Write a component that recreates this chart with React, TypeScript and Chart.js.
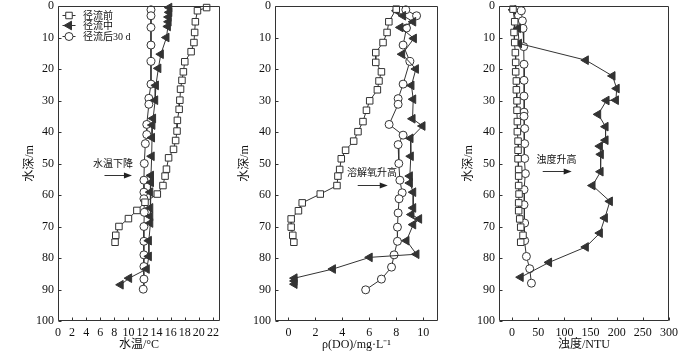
import React, { useEffect, useRef } from "react";
import { Chart, registerables } from "chart.js";

Chart.register(...registerables);

// ---------- data ----------
const seriesNames = ["径流前", "径流中", "径流后30 d"];
const depthTicks = [0, 10, 20, 30, 40, 50, 60, 70, 80, 90, 100];
const tempTicks = [0, 2, 4, 6, 8, 10, 12, 14, 16, 18, 20, 22];
const doTicks = [0, 2, 4, 6, 8, 10];
const turbTicks = [0, 50, 100, 150, 200, 250, 300];

// water temperature (°C)
const tempBeforeDepth = [0.5, 1.5, 5, 8.4, 11.6, 14.5, 17.7, 20.9, 23.6, 26.4, 29.9, 32.8, 36.3, 39.7, 42.7, 45.5, 48.2, 51.8, 54, 57, 59.7, 62.3, 64.9, 67.5, 70, 72.8, 75];
const tempBeforeValue = [21.1, 19.8, 19.5, 19.4, 19.3, 18.9, 18.0, 17.8, 17.6, 17.4, 17.3, 17.2, 16.95, 16.9, 16.7, 16.4, 15.7, 15.4, 15.2, 14.9, 14.1, 12.35, 11.2, 10.0, 8.65, 8.2, 8.1];
const tempDuringDepth = [0.5, 2, 3.5, 5, 6.5, 10, 15.3, 19.8, 25.2, 29.9, 35.7, 37.8, 41.8, 47.7, 53.8, 56, 59.1, 64.1, 66.8, 68.9, 74.5, 79.5, 83.5, 86.4, 88.5];
const tempDuringValue = [15.8, 15.8, 15.7, 15.7, 15.6, 15.4, 14.6, 14.25, 13.9, 13.8, 13.5, 13.4, 13.35, 13.3, 13.2, 13.2, 13.1, 13.1, 13.1, 13.1, 12.9, 12.9, 12.6, 10.1, 8.9];
const tempAfterDepth = [1.2, 3.1, 6.8, 12.4, 17.6, 24.8, 29.3, 31.2, 37.6, 40.8, 43.7, 50, 55.3, 59.1, 61.2, 65.5, 70, 74.7, 79, 82.7, 86.7, 89.9];
const tempAfterValue = [13.2, 13.2, 13.2, 13.2, 13.2, 13.2, 12.9, 12.9, 12.6, 12.6, 12.4, 12.25, 12.2, 12.2, 12.2, 12.25, 12.2, 12.2, 12.2, 12.2, 12.2, 12.1];

// dissolved oxygen (mg/L)
const doBeforeDepth = [1, 5, 8.4, 11.6, 14.8, 17.9, 20.9, 23.8, 26.6, 30.1, 33.1, 36.7, 39.9, 42.9, 45.8, 48.5, 51.9, 54, 57, 59.7, 62.5, 65, 67.6, 70.2, 72.8, 75];
const doBeforeValue = [8.0, 7.45, 7.32, 7.02, 6.48, 6.48, 6.9, 6.72, 6.6, 6.03, 5.79, 5.53, 5.16, 4.84, 4.24, 3.92, 3.8, 3.67, 3.6, 2.36, 1.02, 0.74, 0.2, 0.2, 0.32, 0.4];
const doDuringDepth = [1.5, 3.1, 5, 6.8, 10.3, 15.3, 20, 25.2, 29.6, 35.8, 38.1, 42, 47.7, 54, 56.2, 59.1, 64.1, 66.2, 67.6, 69.4, 74.5, 78.8, 79.8, 83.5, 86.4, 87.3, 88.3];
const doDuringValue = [8.02, 8.51, 9.26, 8.31, 9.31, 8.44, 9.46, 9.13, 9.26, 9.21, 9.95, 9.06, 9.08, 9.01, 9.01, 9.26, 9.26, 9.13, 9.7, 9.26, 8.76, 9.5, 6.03, 3.3, 0.45, 0.45, 0.45];
const doAfterDepth = [1.2, 3.1, 7, 12.4, 17.6, 24.8, 29.4, 31.2, 37.6, 41, 44, 50, 55.3, 59.3, 61.2, 65.7, 70.2, 74.7, 79, 82.9, 86.7, 90.1];
const doAfterValue = [8.71, 9.51, 8.76, 8.51, 9.01, 8.51, 8.14, 8.14, 7.47, 8.51, 8.14, 8.19, 8.27, 8.44, 8.21, 8.14, 8.09, 8.09, 7.84, 7.65, 6.9, 5.73];

// turbidity (NTU)
const turbBeforeDepth = [1, 5, 8.4, 11.6, 14.8, 17.9, 20.9, 23.8, 26.6, 30.1, 33.1, 36.7, 39.9, 42.9, 45.8, 48.5, 51.9, 54, 57, 59.7, 62.5, 65, 67.6, 70.2, 72.8, 75];
const turbBeforeValue = [1.8, 5, 3.7, 5, 6.3, 6.9, 6.9, 8.2, 8.2, 9.4, 9.4, 10.1, 10.1, 11.4, 11.4, 11.4, 12.6, 12.6, 12.6, 13.3, 12.6, 12.6, 14.6, 16.5, 20.9, 16.5];
const turbDuringDepth = [1.2, 7.1, 11.9, 17.2, 22.2, 26.2, 29.9, 30, 34.4, 38.3, 42.6, 44.5, 47.1, 52.6, 57, 62, 67.3, 72.1, 76.5, 81.4, 86.1];
const turbDuringValue = [1.8, 11.4, 13.3, 141, 192, 200, 198.5, 180.6, 164.6, 178.7, 178.7, 167.8, 169.7, 169.2, 153.8, 187, 177.4, 167.8, 141, 70.7, 16.5];
const turbAfterDepth = [1.5, 4.7, 7.1, 12.9, 18.5, 23.6, 28.6, 33.7, 35, 38.9, 43.7, 48.4, 53.2, 58.3, 63.1, 68.9, 74.5, 79.5, 83.4, 88];
const turbAfterValue = [17.8, 19.7, 20.9, 22.2, 22.8, 22.8, 22.8, 22.8, 22.8, 24.1, 24.1, 24.1, 25.5, 22.8, 22.8, 24.1, 24.1, 27.4, 33.7, 37];

// ---------- styling ----------
const FONT_FAMILY = '"Liberation Serif", "Times New Roman", "Noto Sans CJK SC", serif';
const INK = "#333333";
const TEXT = "#111111";

const markerStyles = [
  { pointStyle: "rect", pointRadius: 4.6, fill: "#ffffff", rotation: 0 },
  { pointStyle: "triangle", pointRadius: 5, fill: INK, rotation: -90 },
  { pointStyle: "circle", pointRadius: 4, fill: "#ffffff", rotation: 0 },
];

function toPoints(depth: number[], value: number[]) {
  return depth.map((d, i) => ({ x: value[i], y: d }));
}

type PanelCfg = {
  key: string;
  canvasLeft: number;
  canvasWidth: number;
  padLeft: number;
  padRight: number;
  yWidth: number;
  xMin: number;
  xMax: number;
  xTicks: number[];
  xTitle: string;
  series: { depth: number[]; value: number[] }[];
  note: { text: string; tx: number; ty: number; ax1: number; ax2: number; ay: number };
  legend: boolean;
};

const panels: PanelCfg[] = [
  {
    key: "temp",
    canvasLeft: 0,
    canvasWidth: 232,
    padLeft: 19,
    padRight: 12,
    yWidth: 39,
    xMin: 0,
    xMax: 23,
    xTicks: tempTicks,
    xTitle: "水温/°C",
    series: [
      { depth: tempBeforeDepth, value: tempBeforeValue },
      { depth: tempDuringDepth, value: tempDuringValue },
      { depth: tempAfterDepth, value: tempAfterValue },
    ],
    note: { text: "水温下降", tx: 7.8, ty: 50.2, ax1: 6.6, ax2: 10.5, ay: 53.6 },
    legend: true,
  },
  {
    key: "do",
    canvasLeft: 232,
    canvasWidth: 216,
    padLeft: 2,
    padRight: 10,
    yWidth: 41,
    xMin: -1,
    xMax: 11.1,
    xTicks: doTicks,
    xTitle: "ρ(DO)/mg·L⁻¹",
    series: [
      { depth: doBeforeDepth, value: doBeforeValue },
      { depth: doDuringDepth, value: doDuringValue },
      { depth: doAfterDepth, value: doAfterValue },
    ],
    note: { text: "溶解氧升高", tx: 6.2, ty: 53.2, ax1: 5.14, ax2: 7.37, ay: 56.7 },
    legend: false,
  },
  {
    key: "turb",
    canvasLeft: 458,
    canvasWidth: 242,
    padLeft: 0,
    padRight: 31,
    yWidth: 41,
    xMin: -25,
    xMax: 300,
    xTicks: turbTicks,
    xTitle: "浊度/NTU",
    series: [
      { depth: turbBeforeDepth, value: turbBeforeValue },
      { depth: turbDuringDepth, value: turbDuringValue },
      { depth: turbAfterDepth, value: turbAfterValue },
    ],
    note: { text: "浊度升高", tx: 85, ty: 49, ax1: 58.6, ax2: 114, ay: 52.4 },
    legend: false,
  },
];

function drawMarker(ctx: CanvasRenderingContext2D, idx: number, x: number, y: number) {
  const m = markerStyles[idx];
  ctx.save();
  ctx.strokeStyle = INK;
  ctx.fillStyle = m.fill;
  ctx.lineWidth = 1;
  ctx.beginPath();
  if (idx === 0) {
    const s = Math.SQRT1_2 * m.pointRadius;
    ctx.rect(x - s, y - s, 2 * s, 2 * s);
  } else if (idx === 1) {
    const r = m.pointRadius;
    ctx.moveTo(x - r, y);
    ctx.lineTo(x + r * 0.5, y - r * 0.866);
    ctx.lineTo(x + r * 0.5, y + r * 0.866);
    ctx.closePath();
  } else {
    ctx.arc(x, y, m.pointRadius, 0, Math.PI * 2);
  }
  ctx.fill();
  ctx.stroke();
  ctx.restore();
}

function ChartPanel({ cfg }: { cfg: PanelCfg }) {
  const ref = useRef<HTMLCanvasElement | null>(null);

  useEffect(() => {
    if (!ref.current) return;

    const framePlugin = {
      id: "frameTicks" + cfg.key,
      afterDraw(chart: any) {
        const ctx: CanvasRenderingContext2D = chart.ctx;
        const { left, right, top, bottom } = chart.chartArea;
        const xs = chart.scales.x;
        const ys = chart.scales.y;
        const L = Math.round(left) + 0.5;
        const R = Math.round(right) - 0.5;
        const T = Math.round(top) + 0.5;
        const B = Math.round(bottom) - 0.5;
        ctx.save();
        ctx.strokeStyle = INK;
        ctx.lineWidth = 1;
        ctx.beginPath();
        ctx.moveTo(L, T);
        ctx.lineTo(R, T);
        ctx.lineTo(R, B);
        ctx.lineTo(L, B);
        ctx.closePath();
        ctx.stroke();
        ctx.beginPath();
        depthTicks.forEach((v) => {
          const yy = Math.round(ys.getPixelForValue(v)) + 0.5;
          ctx.moveTo(L, yy);
          ctx.lineTo(L + 3, yy);
        });
        cfg.xTicks.forEach((v) => {
          const xx = Math.round(xs.getPixelForValue(v)) + 0.5;
          ctx.moveTo(xx, B);
          ctx.lineTo(xx, B - 3);
        });
        ctx.stroke();

        // annotation: text + arrow
        const n = cfg.note;
        ctx.fillStyle = TEXT;
        ctx.font = '10px ' + FONT_FAMILY;
        ctx.textAlign = "center";
        ctx.textBaseline = "middle";
        ctx.fillText(n.text, xs.getPixelForValue(n.tx), ys.getPixelForValue(n.ty));
        const x1 = xs.getPixelForValue(n.ax1);
        const x2 = xs.getPixelForValue(n.ax2);
        const ay = Math.round(ys.getPixelForValue(n.ay)) + 0.5;
        ctx.beginPath();
        ctx.moveTo(x1, ay);
        ctx.lineTo(x2 - 6, ay);
        ctx.stroke();
        ctx.fillStyle = "#222";
        ctx.beginPath();
        ctx.moveTo(x2, ay);
        ctx.lineTo(x2 - 8, ay - 3);
        ctx.lineTo(x2 - 8, ay + 3);
        ctx.closePath();
        ctx.fill();

        // legend
        if (cfg.legend) {
          ctx.font = '10px ' + FONT_FAMILY;
          ctx.textAlign = "left";
          ctx.textBaseline = "middle";
          seriesNames.forEach((name, i) => {
            const ly = Math.round(top + 9 + i * 10.4) + 0.5;
            const lx = left + 4.5;
            ctx.strokeStyle = INK;
            ctx.beginPath();
            ctx.moveTo(lx, ly);
            ctx.lineTo(lx + 13, ly);
            ctx.stroke();
            drawMarker(ctx, i, lx + 6.5, ly);
            ctx.fillStyle = TEXT;
            ctx.fillText(name, lx + 20.5, ly + 0.5);
          });
        }
        ctx.restore();
      },
    };

    const datasets = cfg.series.map((s, i) => ({
      label: seriesNames[i],
      data: toPoints(s.depth, s.value),
      showLine: true,
      borderColor: INK,
      borderWidth: 1,
      pointStyle: markerStyles[i].pointStyle as any,
      pointRadius: markerStyles[i].pointRadius,
      pointRotation: markerStyles[i].rotation,
      pointBackgroundColor: markerStyles[i].fill,
      pointBorderColor: INK,
      pointBorderWidth: 1,
      pointHoverRadius: markerStyles[i].pointRadius,
      clip: false as any,
    }));

    const tickFont = { family: FONT_FAMILY, size: 12 };
    const titleFont = { family: FONT_FAMILY, size: 12 };

    const chart = new Chart(ref.current, {
      type: "scatter",
      data: { datasets },
      options: {
        animation: false,
        responsive: false,
        maintainAspectRatio: false,
        devicePixelRatio: 1,
        events: [],
        layout: { padding: { left: cfg.padLeft, right: cfg.padRight, top: 6, bottom: 0 } },
        plugins: { legend: { display: false }, tooltip: { enabled: false } },
        scales: {
          x: {
            type: "linear",
            min: cfg.xMin,
            max: cfg.xMax,
            afterBuildTicks: (s: any) => {
              s.ticks = cfg.xTicks.map((v) => ({ value: v }));
            },
            afterFit: (s: any) => {
              s.height = 33;
              s.paddingLeft = 0;
              s.paddingRight = 0;
            },
            grid: { display: false, drawTicks: false },
            border: { display: false },
            ticks: { padding: 5, font: tickFont, color: TEXT, autoSkip: false, maxRotation: 0 },
            title: { display: true, text: cfg.xTitle, font: titleFont, color: TEXT, padding: { top: 0, bottom: 2 } },
          },
          y: {
            type: "linear",
            reverse: true,
            min: 0,
            max: 100,
            afterBuildTicks: (s: any) => {
              s.ticks = depthTicks.map((v) => ({ value: v }));
            },
            afterFit: (s: any) => {
              s.width = cfg.yWidth;
              s.paddingTop = 0;
              s.paddingBottom = 0;
            },
            grid: { display: false, drawTicks: false },
            border: { display: false },
            ticks: { padding: 4, font: tickFont, color: TEXT, autoSkip: false },
            title: { display: true, text: "水深/m", font: titleFont, color: TEXT, padding: { top: 4, bottom: 0 } },
          },
        },
      },
      plugins: [framePlugin],
    } as any);

    return () => chart.destroy();
  }, [cfg]);

  return (
    <canvas
      ref={ref}
      width={cfg.canvasWidth}
      height={354}
      style={{ position: "absolute", left: cfg.canvasLeft, top: 0, width: cfg.canvasWidth, height: 354, display: "block" }}
    />
  );
}

export default function App() {
  return (
    <div style={{ position: "absolute", left: 0, top: 0, width: 700, height: 354, background: "#ffffff", overflow: "hidden" }}>
      {panels.map((p) => (
        <ChartPanel key={p.key} cfg={p} />
      ))}
    </div>
  );
}
